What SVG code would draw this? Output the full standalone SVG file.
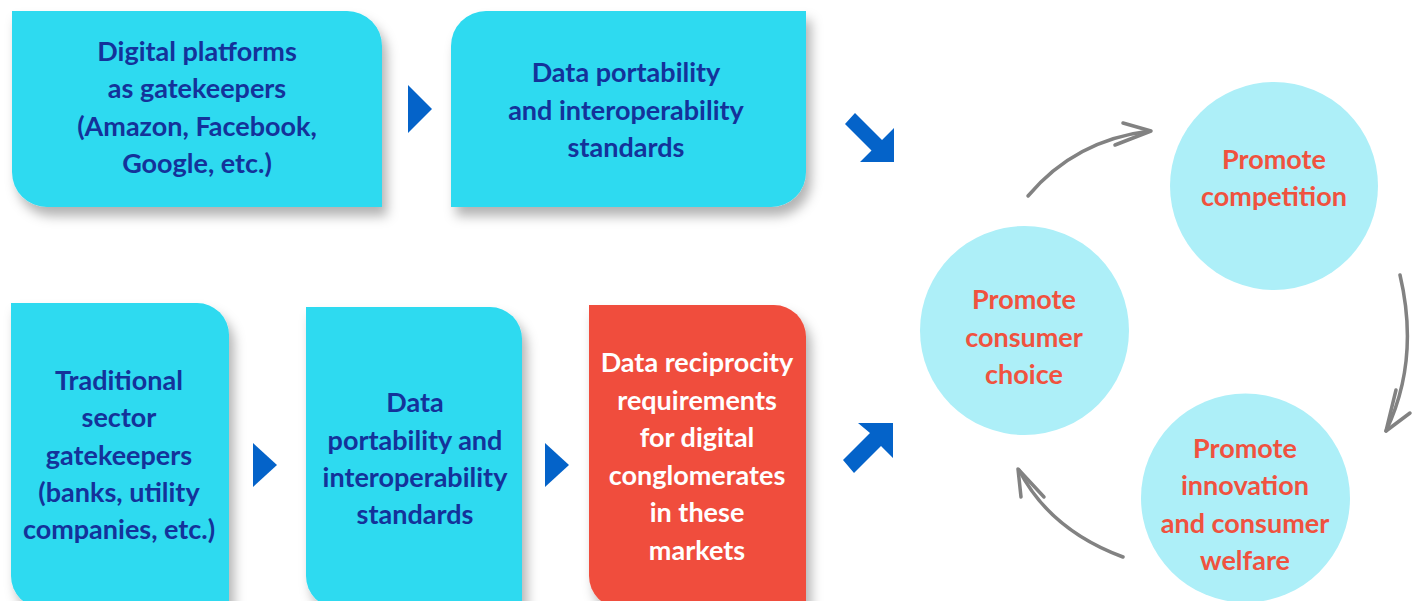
<svg xmlns="http://www.w3.org/2000/svg" width="1421" height="601" viewBox="0 0 1421 601">
  <style>
    .box { fill: #2DDAF0; filter: url(#shadow); }
    .box.red { fill: #F04E3E; }
    .lbl { font-family: Lato, "Liberation Sans", sans-serif; font-weight: bold; font-size: 27px; text-anchor: middle; dominant-baseline: central; }
    .blue { fill: #14329A; }
    .white { fill: #FFFFFF; }
    .circ { fill: #ADEFF8; }
    .ctext { fill: #F0523F; }
    .chev { fill: #0463C9; }
    .loop { fill: none; stroke: #828282; stroke-width: 3.5; stroke-linecap: round; stroke-linejoin: round; }
  </style>
  <defs>
    <filter id="shadow" x="-10%" y="-10%" width="130%" height="130%">
      <feDropShadow dx="5" dy="9" stdDeviation="6" flood-color="#000" flood-opacity="0.3"/>
    </filter>
  </defs>
  <rect width="1421" height="601" fill="#FFFFFF"/>

  <!-- top row -->
  <g id="node-digital-platforms">
    <path class="box" d="M12,11 H347 A35,35 0 0 1 382,46 V207 H47 A35,35 0 0 1 12,172 Z"/>
    <text class="lbl blue" x="197" y="50">Digital platforms</text>
    <text class="lbl blue" x="197" y="87">as gatekeepers</text>
    <text class="lbl blue" x="197" y="125">(Amazon, Facebook,</text>
    <text class="lbl blue" x="197" y="162">Google, etc.)</text>
  </g>
  <g id="node-portability-top">
    <path class="box" d="M486,11 H806 V172 A35,35 0 0 1 771,207 H451 V46 A35,35 0 0 1 486,11 Z"/>
    <text class="lbl blue" x="626" y="71">Data portability</text>
    <text class="lbl blue" x="626" y="109">and interoperability</text>
    <text class="lbl blue" x="626" y="146">standards</text>
  </g>

  <!-- bottom row -->
  <g id="node-traditional">
    <path class="box" d="M11,303 H197 A32,32 0 0 1 229,335 V608 H43 A32,32 0 0 1 11,576 Z"/>
    <text class="lbl blue" x="119" y="379">Traditional</text>
    <text class="lbl blue" x="119" y="416">sector</text>
    <text class="lbl blue" x="119" y="454">gatekeepers</text>
    <text class="lbl blue" x="119" y="491">(banks, utility</text>
    <text class="lbl blue" x="119" y="528">companies, etc.)</text>
  </g>
  <g id="node-portability-bottom">
    <path class="box" d="M306,307 H490 A32,32 0 0 1 522,339 V608 H338 A32,32 0 0 1 306,576 Z"/>
    <text class="lbl blue" x="415" y="401">Data</text>
    <text class="lbl blue" x="415" y="439">portability and</text>
    <text class="lbl blue" x="415" y="476">interoperability</text>
    <text class="lbl blue" x="415" y="513">standards</text>
  </g>
  <g id="node-reciprocity">
    <path class="box red" d="M589,305 H774 A32,32 0 0 1 806,337 V608 H621 A32,32 0 0 1 589,576 Z"/>
    <text class="lbl white" x="697" y="361">Data reciprocity</text>
    <text class="lbl white" x="697" y="399">requirements</text>
    <text class="lbl white" x="697" y="436">for digital</text>
    <text class="lbl white" x="697" y="474">conglomerates</text>
    <text class="lbl white" x="697" y="511">in these</text>
    <text class="lbl white" x="697" y="549">markets</text>
  </g>

  <!-- outcome cycle -->
  <g id="node-competition">
    <circle class="circ" cx="1274" cy="186" r="104"/>
    <text class="lbl ctext" x="1274" y="158">Promote</text>
    <text class="lbl ctext" x="1274" y="195">competition</text>
  </g>
  <g id="node-consumer-choice">
    <circle class="circ" cx="1024.5" cy="330.5" r="104.5"/>
    <text class="lbl ctext" x="1024" y="298">Promote</text>
    <text class="lbl ctext" x="1024" y="336">consumer</text>
    <text class="lbl ctext" x="1024" y="373">choice</text>
  </g>
  <g id="node-innovation">
    <circle class="circ" cx="1245.5" cy="498" r="104.5"/>
    <text class="lbl ctext" x="1245" y="447">Promote</text>
    <text class="lbl ctext" x="1245" y="484">innovation</text>
    <text class="lbl ctext" x="1245" y="522">and consumer</text>
    <text class="lbl ctext" x="1245" y="559">welfare</text>
  </g>

  <g id="connectors">
    <!-- flow chevrons -->
    <polygon class="chev" points="408,85 432,109 408,133"/>
    <polygon class="chev" points="253,443 277,465 253,487"/>
    <polygon class="chev" points="545,443 569,465 545,487"/>
    <!-- diagonal block arrows into the cycle -->
    <polygon class="chev" points="855,113 882,140 894,128 894,162 860,162 871.5,150.5 845,124"/>
    <polygon class="chev" points="843,460 870,433 858,423 893,423 893,458 881,446 854,473"/>
    <!-- hand-drawn cycle arrows -->
    <path class="loop" d="M1028,196 Q1075,140 1150,131"/>
    <path class="loop" d="M1123,123 L1151,131 L1115,145"/>
    <path class="loop" d="M1400,275 Q1420,360 1386,431"/>
    <path class="loop" d="M1396,390 L1386,431 L1410,413"/>
    <path class="loop" d="M1123,557 Q1050,530 1019,470"/>
    <path class="loop" d="M1021,497 L1018,469 L1044,497"/>
  </g>
</svg>
